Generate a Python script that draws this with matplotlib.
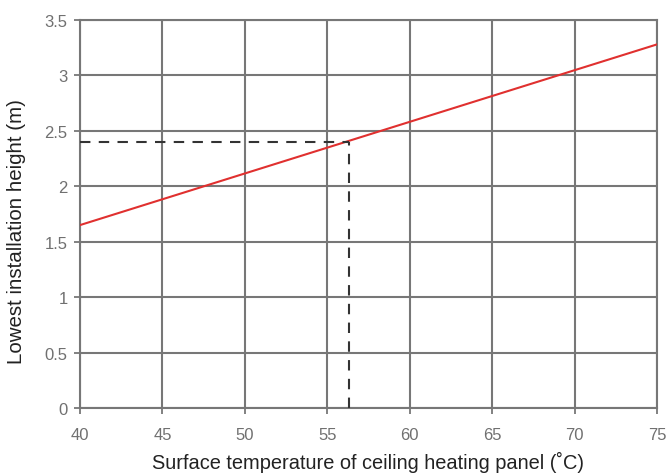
import numpy as np
import matplotlib
matplotlib.use("Agg")
import matplotlib.pyplot as plt

plt.rcParams['font.family'] = ['Liberation Sans', 'DejaVu Sans']

# red line endpoints (surface temperature, height)
temp = [40, 75]
height = [1.65, 3.28]

# reading example
read_temp = 56.3
read_height = 2.4

x_ticks = [40, 45, 50, 55, 60, 65, 70, 75]
y_ticks = [0, 0.5, 1, 1.5, 2, 2.5, 3, 3.5]
y_labels = ["0", "0.5", "1", "1.5", "2", "2.5", "3", "3.5"]

fig = plt.figure(figsize=(6.72, 4.77), dpi=100)
# axes box: x 80..657 px, y 21..409 px
ax = fig.add_axes([80 / 672, 1 - 409 / 477, 577 / 672, 388 / 477])

ax.set_xlim(40, 75)
ax.set_ylim(0, 3.5)
ax.set_xticks(x_ticks)
ax.set_yticks(y_ticks)
ax.set_yticklabels(y_labels)
ax.grid(True, color='#777777', lw=1.5)
for s in ax.spines.values():
    s.set_color('#777777')
    s.set_linewidth(1.5)
ax.tick_params(colors='#777777', labelcolor='#707070', labelsize=12, length=4, width=1.3)
ax.tick_params(axis='x', pad=10)
ax.tick_params(axis='y', pad=5)

ax.plot(temp, height, color='#e0302f', lw=1.5, zorder=3)
ax.plot([40, read_temp], [read_height, read_height], color='#333333', lw=1.5,
        ls=(0, (5, 4)), zorder=3)
ax.plot([read_temp, read_temp], [0, read_height], color='#333333', lw=1.5,
        ls=(0, (5, 4)), zorder=3)

ax.set_xlabel("Surface temperature of ceiling heating panel (\u02daC)", fontsize=14.4, color='#222222')
ax.set_ylabel("Lowest installation height (m)", fontsize=14.8, color='#222222')
ax.xaxis.set_label_coords(0.5, -(462 - 409) / 388, transform=ax.transAxes)
ax.yaxis.set_label_coords(-(80 - 17) / 577, (409 - 232) / 388, transform=ax.transAxes)
ax.xaxis.label.set_va('center')
ax.yaxis.label.set_va('center')

fig.savefig("out.png", dpi=100)
